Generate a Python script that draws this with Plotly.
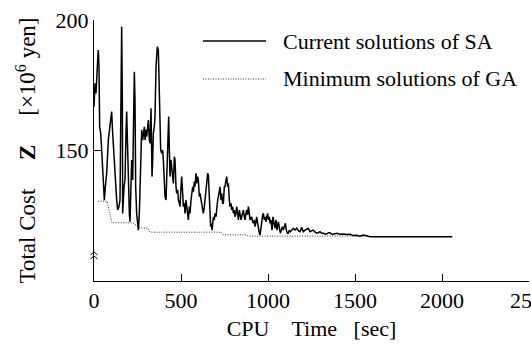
import plotly.graph_objects as go

# ---- data ----
sa_time = [0, 5.7, 11.5, 15.3, 21.1, 24.9, 28.7, 32.6, 38.3, 44.1, 49.8, 53.6, 59.4, 65.1, 72.8,
           82.4, 92.0, 101.5, 107.3, 111.1, 116.9, 122.6, 130.3, 136.0, 143.7, 149.4, 155.2, 159.0,
           162.9, 164.8, 172.4, 178.2, 183.9, 187.8, 193.5, 197.3, 203.1, 206.9, 212.7, 216.5, 222.3,
           228.0, 231.8, 235.7, 239.5, 245.2, 249.1, 254.8, 260.6, 264.4, 270.2, 274.0, 279.7, 283.6,
           289.3, 293.1, 298.9, 302.7, 308.5, 312.3, 318.1, 321.9, 327.6, 333.4, 337.2, 341.0, 346.8,
           350.6, 356.4, 360.2, 364.0, 369.8, 375.5, 379.4, 383.2, 388.9, 394.7, 398.5, 404.3, 408.1,
           413.9, 417.7, 421.5, 425.4, 429.2, 433.0, 436.8, 442.6, 446.4, 452.2, 456.0, 461.8, 465.6,
           471.3, 475.2, 480.9, 484.8, 490.5, 494.3, 500.1, 503.9, 509.7, 513.5, 519.2, 523.1, 528.8,
           532.6, 538.4, 542.2, 548.0, 551.8, 557.6, 561.4, 567.1, 571.0, 576.7, 580.5, 586.3, 590.1,
           595.9, 599.7, 605.5, 609.3, 615.0, 618.9, 624.6, 628.4, 634.2, 638.0, 643.8, 647.6, 653.4,
           657.2, 663.0, 666.8, 670.6, 674.4, 678.3, 682.1, 685.9, 691.7, 695.5, 701.3, 705.1, 710.8,
           714.7, 720.4, 724.2, 730.0, 733.8, 739.6, 743.4, 749.2, 753.0, 758.7, 762.6, 768.3, 772.1,
           777.9, 781.7, 787.5, 791.3, 797.1, 800.9, 806.7, 810.5, 816.2, 820.0, 825.8, 829.6, 835.4,
           839.2, 845.0, 848.8, 854.5, 858.4, 864.1, 867.9, 873.7, 877.5, 883.3, 887.1, 892.9, 896.7,
           902.4, 906.3, 912.0, 915.8, 921.6, 925.4, 931.2, 935.0, 940.8, 944.6, 950.3, 954.2, 960.0,
           963.8, 969.5, 973.3, 979.1, 982.9, 988.7, 992.5, 998.2, 1002.1, 1007.8, 1011.6, 1017.3,
           1023.0, 1028.7, 1034.5, 1040.2, 1046.0, 1051.7, 1059.4, 1065.1, 1070.9, 1076.6, 1082.4,
           1088.1, 1093.9, 1099.6, 1105.4, 1111.1, 1116.9, 1122.6, 1128.4, 1136.0, 1145.6, 1155.2,
           1164.8, 1174.4, 1184.0, 1193.5, 1203.1, 1212.7, 1222.3, 1231.8, 1241.4, 1251.0, 1260.6,
           1270.2, 1279.7, 1289.3, 1298.9, 1308.5, 1318.1, 1327.6, 1337.2, 1346.8, 1356.4, 1366.0,
           1375.5, 1394.7, 1413.9, 1433.0, 1452.2, 1471.3, 1490.5, 1509.7, 1528.8, 1548.0, 1567.2,
           1586.3, 2059.6]
sa_cost = [166.8, 175.7, 171.9, 179.6, 184.7, 188.5, 182.1, 159.1, 156.6, 150.2, 141.3, 134.9, 131.0,
           136.1, 141.3, 154.0, 160.4, 164.9, 156.6, 151.5, 147.6, 136.1, 131.0, 127.2, 128.5, 131.0,
           192.3, 197.4, 169.3, 125.9, 136.1, 138.7, 156.6, 164.9, 150.2, 136.1, 125.9, 122.7, 136.1,
           146.4, 138.7, 169.3, 180.2, 169.3, 136.1, 125.9, 122.7, 119.5, 125.9, 133.6, 150.2, 157.9,
           154.0, 156.6, 159.1, 154.0, 157.9, 155.3, 160.4, 161.7, 154.0, 152.7, 166.2, 140.0, 146.4,
           156.6, 159.1, 163.0, 182.1, 189.1, 189.8, 188.5, 165.5, 154.0, 150.2, 148.9, 150.2, 146.4,
           136.1, 132.3, 131.0, 138.7, 147.6, 154.0, 163.0, 150.2, 140.0, 146.4, 143.8, 138.7, 137.4,
           147.6, 146.4, 136.1, 133.6, 134.9, 131.0, 129.8, 128.5, 136.1, 140.0, 133.6, 128.5, 129.8,
           125.9, 131.0, 128.5, 124.6, 123.4, 128.5, 125.9, 131.0, 133.6, 136.1, 134.2, 138.1, 136.1,
           141.3, 137.4, 140.0, 138.7, 132.3, 133.6, 131.0, 129.8, 127.2, 125.9, 128.5, 131.0, 136.1,
           140.0, 141.3, 140.6, 128.5, 124.6, 120.8, 122.0, 119.5, 122.0, 124.6, 123.4, 125.9, 124.6,
           128.5, 131.0, 132.3, 134.9, 136.1, 131.0, 133.6, 129.8, 129.8, 136.1, 136.1, 138.7, 140.0,
           136.1, 137.4, 131.0, 128.5, 129.8, 127.2, 128.5, 125.9, 127.2, 124.6, 125.9, 128.5, 125.9,
           123.4, 127.2, 125.9, 123.4, 124.6, 125.9, 127.2, 124.6, 123.4, 125.9, 127.2, 125.3, 128.5,
           125.9, 123.4, 124.0, 124.6, 122.7, 122.1, 123.4, 120.8, 122.7, 124.6, 122.1, 119.5, 118.3,
           117.6, 120.8, 123.4, 125.3, 125.9, 123.4, 124.6, 122.7, 124.6, 125.9, 123.4, 124.6, 122.1,
           123.4, 119.5, 124.6, 122.1, 120.2, 123.4, 119.5, 122.7, 120.8, 118.3, 119.5, 120.8, 119.5,
           121.5, 122.1, 119.5, 118.3, 118.3, 119.5, 118.9, 119.5, 120.2, 119.5, 120.2, 119.3, 118.9,
           120.6, 118.9, 119.5, 119.8, 120.2, 118.9, 119.3, 119.5, 118.8, 118.3, 118.5, 118.9, 118.3,
           118.3, 118.0, 118.0, 118.5, 118.5, 118.0, 117.9, 118.3, 117.9, 118.0, 117.8, 117.9, 117.4,
           117.5, 117.2, 117.6, 117.2, 117.0, 117.0]

ga_time = [23, 75, 103, 224, 264, 310, 322, 730, 741, 874, 885, 1586]
ga_cost = [130.6, 130.6, 122.3, 122.3, 120.3, 120.3, 118.7, 118.7, 117.7, 117.7, 117.2, 117.2]

x_ticks = [0, 500, 1000, 1500, 2000]
x_last_tick = 2500
y_ticks = [150, 200]

sa_name = "Current solutions of SA"
ga_name = "Minimum solutions of GA"
y_title = "Total Cost" + "\u00a0" * 5 + "<b>Z</b>" + "\u00a0" * 5 + "[\u00d710<sup>6</sup>\u00a0yen]"
x_title = "CPU" + "\u00a0" * 4 + "Time" + "\u00a0" * 3 + "[sec]"

FONT = "Liberation Serif"
GA_DASH = "1px,1.5px"

fig = go.Figure()
fig.add_trace(go.Scatter(x=ga_time, y=ga_cost, mode="lines", name=ga_name,
                         line=dict(color="#333333", width=1, dash=GA_DASH), showlegend=False))
fig.add_trace(go.Scatter(x=sa_time, y=sa_cost, mode="lines", name=sa_name,
                         line=dict(color="black", width=1.5), showlegend=False))

# manual legend (long line samples as in the reference)
for yy, name, dash, col in [(0.9195, sa_name, "solid", "black"), (0.774, ga_name, GA_DASH, "#333333")]:
    fig.add_shape(type="line", xref="paper", yref="paper", x0=0.2506, x1=0.3954, y0=yy, y1=yy,
                  line=dict(color=col, width=1.3 if dash == "solid" else 1, dash=dash))
    fig.add_annotation(xref="paper", yref="paper", x=0.430, y=yy, text=name, showarrow=False,
                       xanchor="left", yanchor="middle", font=dict(family=FONT, size=22, color="black"))

# last x tick label (partly cut off by the page edge, as in the reference)
fig.add_annotation(xref="x", yref="paper", x=x_last_tick, y=0, yshift=-5, xshift=3,
                   text=str(x_last_tick), showarrow=False, xanchor="center", yanchor="top",
                   font=dict(family=FONT, size=22, color="black"))

# y axis title as a rotated annotation (placed further left than plotly's own title)
fig.add_annotation(xref="paper", yref="paper", x=0, y=0.5, xshift=-68, textangle=-90,
                   text=y_title, showarrow=False, xanchor="center", yanchor="middle",
                   font=dict(family=FONT, size=23, color="black"))

# axis-break chevrons on the y axis
fig.add_shape(type="path", xref="paper", yref="paper", xsizemode="pixel", ysizemode="pixel",
              xanchor=0, yanchor=0.096,
              path="M-3.5,1 L0,4 L3.5,1 M-3.5,-3 L0,0 L3.5,-3",
              line=dict(color="black", width=1))

fig.update_layout(
    width=531, height=347,
    margin=dict(l=94, r=2, t=20, b=66),
    paper_bgcolor="white", plot_bgcolor="white",
    font=dict(family=FONT, size=22, color="black"),
    xaxis=dict(range=[0, 2500], tickvals=x_ticks + [x_last_tick],
               ticktext=[str(v) for v in x_ticks] + [""],
               showline=True, linecolor="black", linewidth=1, ticks="inside", ticklen=7,
               tickcolor="black", showgrid=False, zeroline=False,
               tickfont=dict(family=FONT, size=22),
               title=dict(text=x_title, standoff=8, font=dict(family=FONT, size=22))),
    yaxis=dict(range=[100, 200], tickvals=y_ticks, ticktext=[str(v) for v in y_ticks],
               showline=True, linecolor="black", linewidth=1, ticks="inside", ticklen=7,
               tickcolor="black", showgrid=False, zeroline=False,
               tickfont=dict(family=FONT, size=22)),
)

fig.write_html("out.html")
